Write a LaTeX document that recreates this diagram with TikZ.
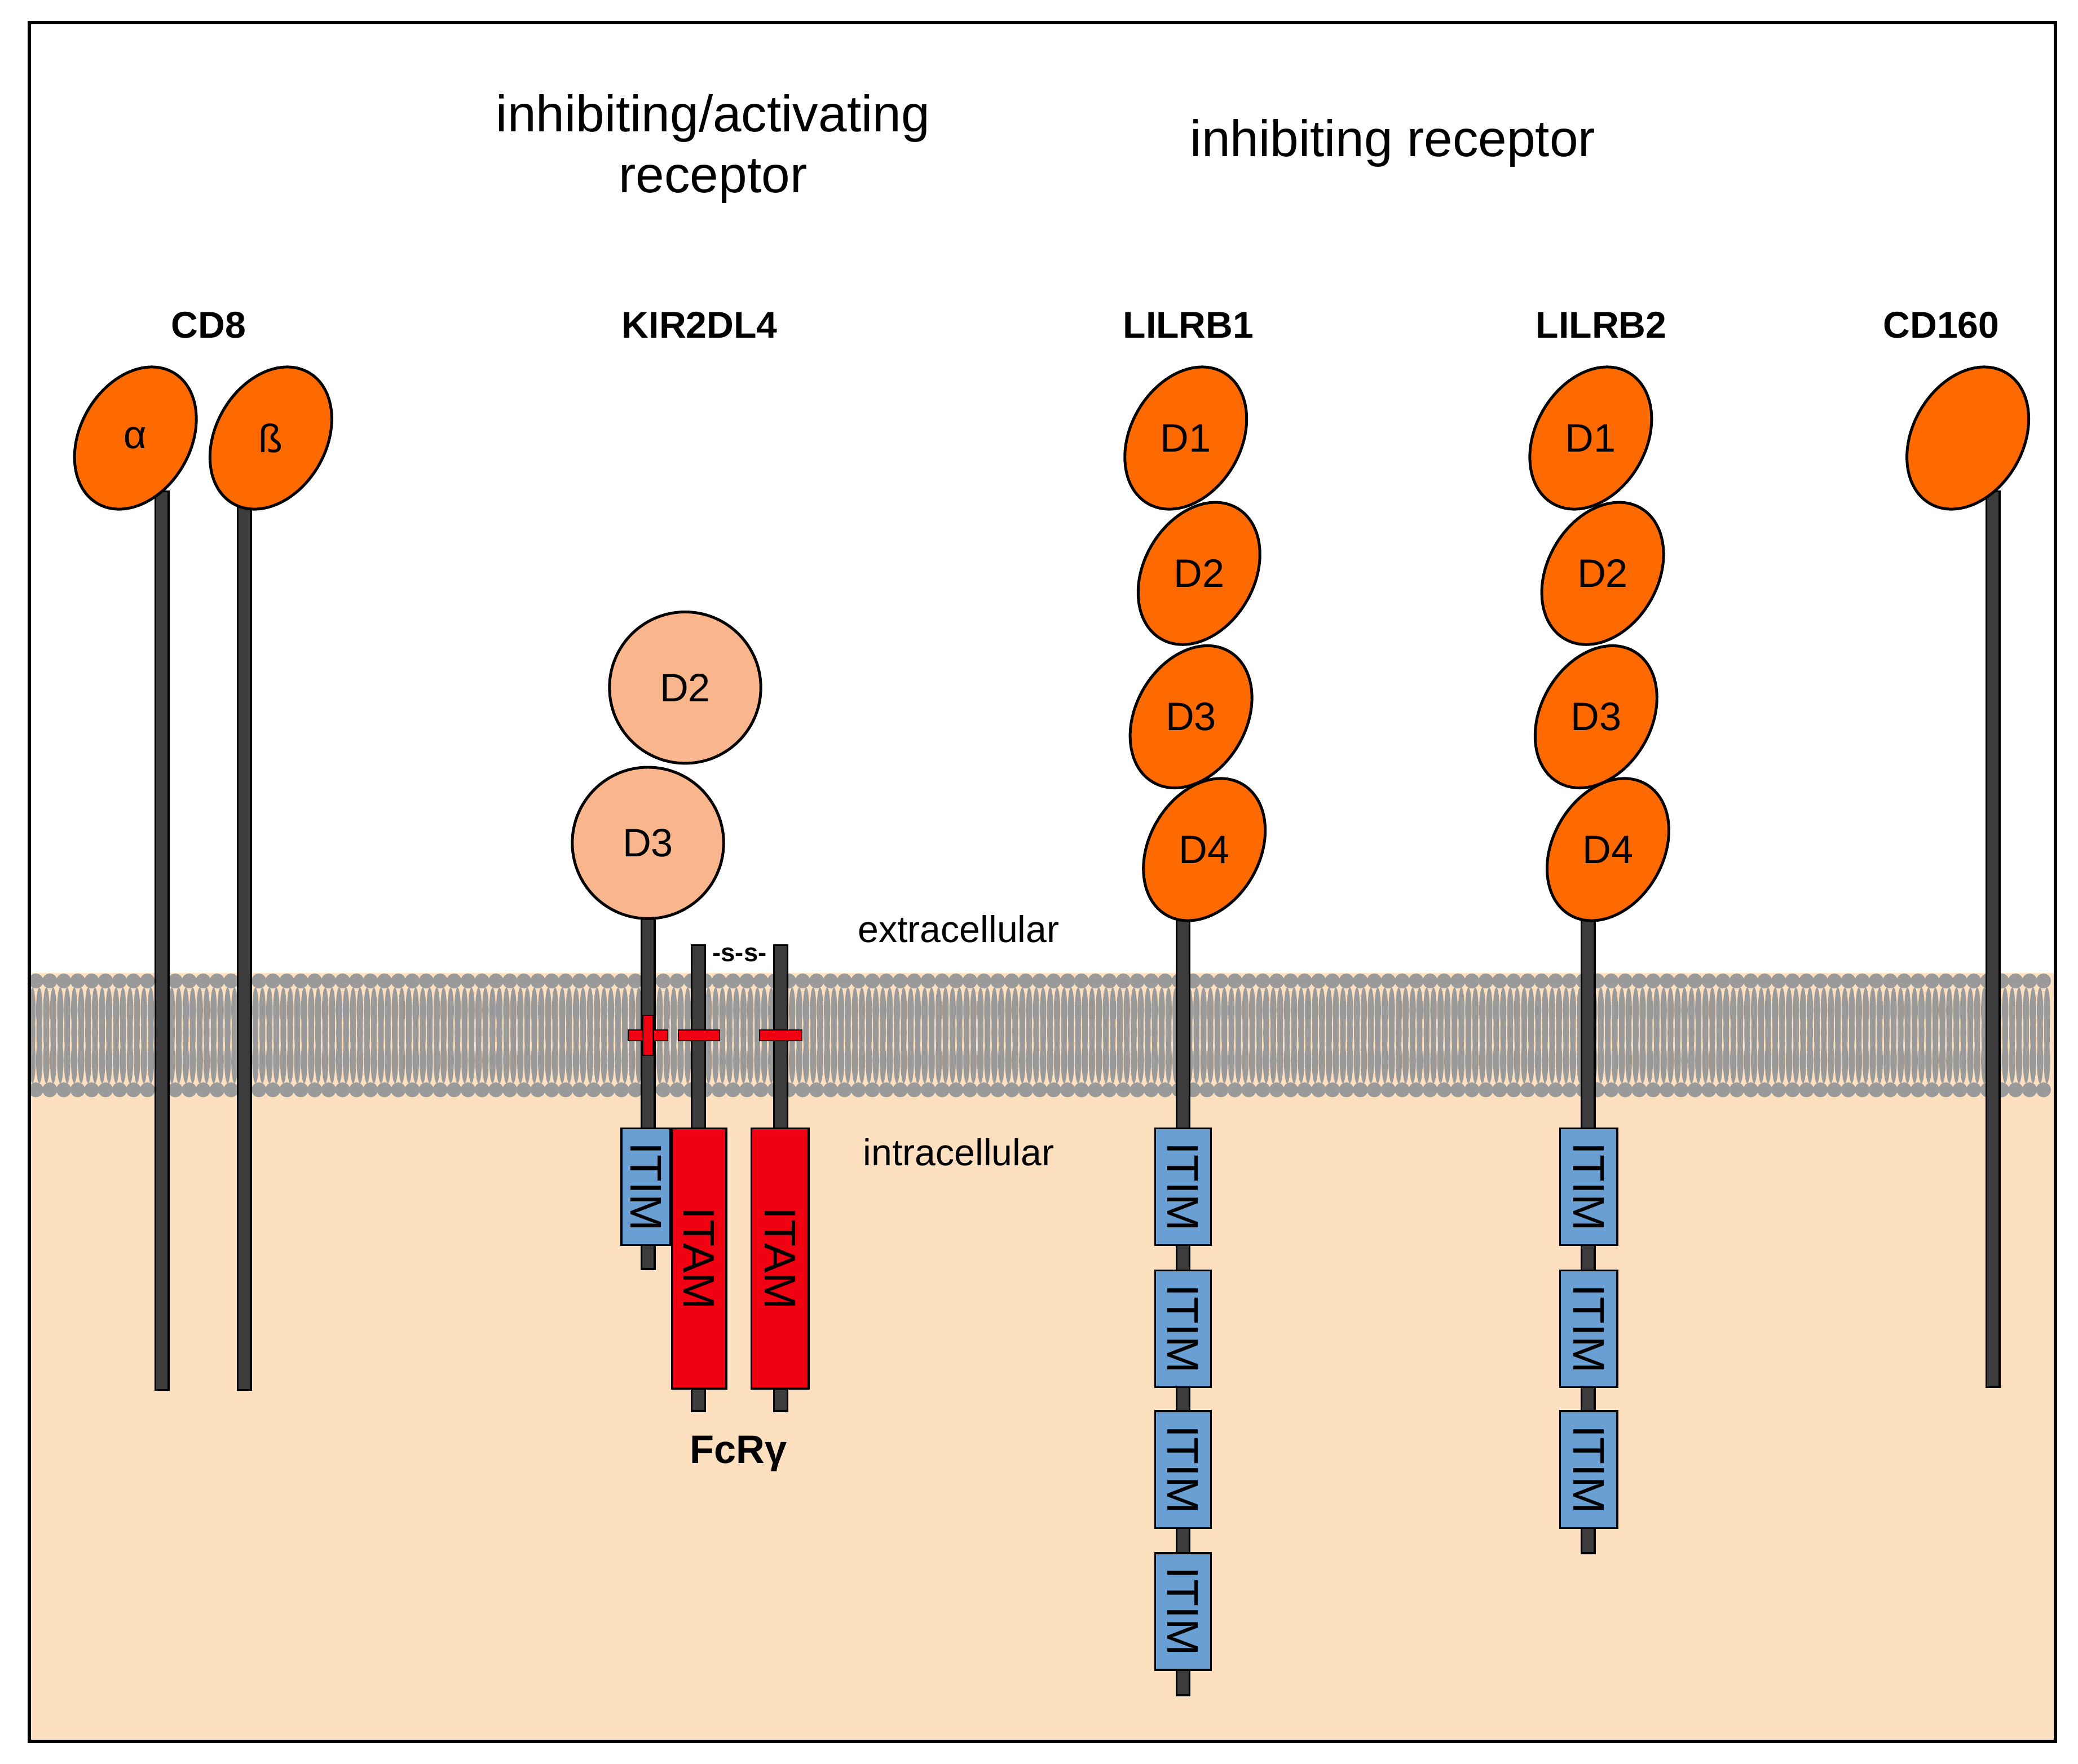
\documentclass[tikz,border=0pt]{standalone}
\usepackage{fontspec}
\setmainfont{Liberation Sans}
\usetikzlibrary{shapes.geometric}
\definecolor{peach}{HTML}{FDE0C0}
\definecolor{lip}{HTML}{9A9A9A}
\definecolor{dom}{HTML}{FF6A00}
\definecolor{kdom}{HTML}{F9B68C}
\definecolor{itim}{HTML}{6A9FD4}
\definecolor{itam}{HTML}{F00010}
\definecolor{stalk}{HTML}{3C3C3C}
\begin{document}
\begin{tikzpicture}[x=0.02cm,y=-0.02cm,
  dom/.style={ellipse,draw=black,line width=1.2pt,fill=dom,minimum width=1.66cm,minimum height=2.28cm,rotate=-30,inner sep=0pt},
  kd/.style={circle,draw=black,line width=1.2pt,fill=kdom,minimum size=2.28cm,inner sep=0pt},
  dl/.style={font=\fontsize{17}{17}\selectfont},
  nm/.style={font=\fontsize{16}{16}\selectfont\bfseries},
  tl/.style={font=\fontsize{22}{26}\selectfont,align=center},
  ml/.style={font=\fontsize{16}{16}\selectfont},
  stalk/.style={draw=black,line width=0.8pt,fill=stalk},
  itim/.style={draw=black,line width=0.8pt,fill=itim},
  itam/.style={draw=black,line width=0.8pt,fill=itam},
  bt/.style={font=\fontsize{19}{19}\selectfont,rotate=-90}]
\useasboundingbox (0,0) rectangle (1565,1328.5);
\fill[white] (0,0) rectangle (1565,1328.5);
\fill[peach] (22,733) rectangle (1548,1312);
% membrane
\foreach \i in {0,...,144}{
  \pgfmathsetmacro{\x}{27+\i*10.5}
  \fill[lip] (\x-2.6,778) ellipse [x radius=2.2, y radius=19] ;
  \fill[lip] (\x+2.6,778) ellipse [x radius=2.2, y radius=19] ;
  \fill[lip] (\x-2.6,761) ellipse [x radius=2.4, y radius=17];
  \fill[lip] (\x+2.6,761) ellipse [x radius=2.4, y radius=17];
  \fill[lip] (\x-2.6,799) ellipse [x radius=2.4, y radius=17];
  \fill[lip] (\x+2.6,799) ellipse [x radius=2.4, y radius=17];
  \fill[lip] (\x,739) circle (5.6);
  \fill[lip] (\x,821) circle (5.6);
}
\draw[line width=1.4pt] (22,17) rectangle (1548,1312);
% titles
\node[tl] (t1) at (537,112) {inhibiting/activating\\receptor};
\node[tl] (t2) at (1049,108) {inhibiting receptor};
\node[ml] (ex) at (722,700) {extracellular};
\node[ml] (in) at (722,868) {intracellular};
% CD8
\node[nm] (cd8) at (157,245) {CD8};
\draw[stalk] (117,370) rectangle (127,1047);
\draw[stalk] (179,370) rectangle (189,1047);
\node[dom] (a) at (102,330) {};
\node[dom] (b) at (204,330) {};
\node[dl] at (a) {α};
\node[dl] at (b) {ß};
% KIR2DL4
\node[nm] (kir) at (527,245) {KIR2DL4};
\draw[stalk] (483,680) rectangle (493,956);
\draw[stalk] (521,712) rectangle (531,1063);
\draw[stalk] (583,712) rectangle (593,1063);
\node[kd] (k2) at (516,518) {};
\node[dl] at (k2) {D2};
\node[kd] (k3) at (488,635) {};
\node[dl] at (k3) {D3};
\node[font=\fontsize{11}{11}\selectfont\bfseries] (ss) at (557,719) {-s-s-};
\draw[itim] (468,850) rectangle (505,938);
\node[bt] (kit) at (486.5,894) {ITIM};
\draw[itam] (506,850) rectangle (547,1046);
\node[bt] (ka1) at (526.5,948) {ITAM};
\draw[itam] (566,850) rectangle (609,1046);
\node[bt] (ka2) at (587.5,948) {ITAM};
\draw[itam,line width=0.5pt] (473,776) rectangle (503,784);
\draw[itam,line width=0.5pt] (484,765) rectangle (492,795);
\draw[itam,line width=0.5pt] (511,776) rectangle (542,784);
\draw[itam,line width=0.5pt] (572,776) rectangle (604,784);
\node[nm,font=\fontsize{17}{17}\selectfont\bfseries] (fc) at (556,1095) {FcRγ};
% LILRB1
\node[nm] (l1) at (895,245) {LILRB1};
\draw[stalk] (886,680) rectangle (896,1277);
\foreach \y/\n in {850/1,957/2,1063/3,1170/4}{
  \draw[itim] (870,\y) rectangle (912,\y+88);
  \node[bt] (l1i\n) at (891,\y+44) {ITIM};
}
\foreach \x/\y/\n in {907/640/4,897/540/3,903/432/2,893/330/1}{
  \node[dom] (l1d\n) at (\x,\y) {};
  \node[dl] at (l1d\n) {D\n};
}
% LILRB2
\node[nm] (l2) at (1206,245) {LILRB2};
\draw[stalk] (1191,680) rectangle (1201,1170);
\foreach \y/\n in {850/1,957/2,1063/3}{
  \draw[itim] (1175,\y) rectangle (1218,\y+88);
  \node[bt] (l2i\n) at (1196.5,\y+44) {ITIM};
}
\foreach \x/\y/\n in {1211/640/4,1202/540/3,1207/432/2,1198/330/1}{
  \node[dom] (l2d\n) at (\x,\y) {};
  \node[dl] at (l2d\n) {D\n};
}
% CD160
\node[nm] (cd160) at (1462,245) {CD160};
\draw[stalk] (1496,370) rectangle (1506,1045);
\node[dom] (c160) at (1482,330) {};
\end{tikzpicture}
\end{document}
